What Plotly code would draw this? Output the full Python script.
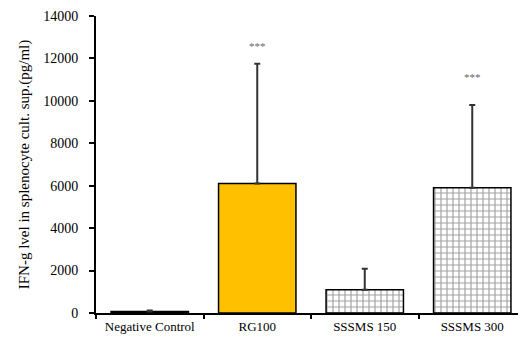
import plotly.graph_objects as go

categories = ["Negative Control", "RG100", "SSSMS 150", "SSSMS 300"]
values = [70, 6100, 1100, 5900]
errors = [50, 5650, 980, 3900]
sig_labels = ["", "***", "", "***"]
sig_y = [0, 12550, 0, 11050]
y_ticks = [0, 2000, 4000, 6000, 8000, 10000, 12000, 14000]
y_ticktext = ["0", "2000", "4000", "6000", "8000", "10000", "12000", "14000"]

fig = go.Figure()
fig.add_trace(go.Bar(
    x=categories, y=values,
    width=0.72,
    marker=dict(
        color=["white", "#FFC000", "white", "white"],
        line=dict(color="black", width=1.5),
        pattern=dict(shape=["", "", "+", "+"], fgcolor="black", bgcolor="white",
                     size=6, solidity=0.35),
    ),
    error_y=dict(type="data", array=errors, arrayminus=[0, 0, 0, 0],
                 color="#333333", thickness=2, width=3),
))
fig.add_trace(go.Scatter(
    x=[c for c, s in zip(categories, sig_labels) if s],
    y=[y for y, s in zip(sig_y, sig_labels) if s],
    text=[s for s in sig_labels if s],
    mode="text", textfont=dict(family="Liberation Serif", size=11, color="#666666"),
    showlegend=False, hoverinfo="skip",
))
fig.update_layout(
    width=518, height=329,
    margin=dict(l=88, r=0, t=8, b=24),
    paper_bgcolor="white", plot_bgcolor="white",
    showlegend=False,
    font=dict(family="Liberation Serif", color="black"),
    xaxis=dict(
        type="category", showline=True, linecolor="black", linewidth=2,
        ticks="outside", tickson="boundaries", ticklen=4, tickwidth=2, tickcolor="black",
        tickfont=dict(size=13), showgrid=False, range=[-0.5, 3.5],
    ),
    yaxis=dict(
        range=[0, 14000], tickvals=y_ticks, ticktext=y_ticktext,
        showline=True, linecolor="black", linewidth=2,
        ticks="outside", ticklen=5, tickwidth=2, tickcolor="black",
        tickfont=dict(size=14), showgrid=False, zeroline=False,
        ticklabelstandoff=8,
        title=dict(text="IFN-g lvel in splenocyte cult. sup.(pg/ml)", font=dict(size=15), standoff=10),
    ),
)
fig.write_html("out.html")
